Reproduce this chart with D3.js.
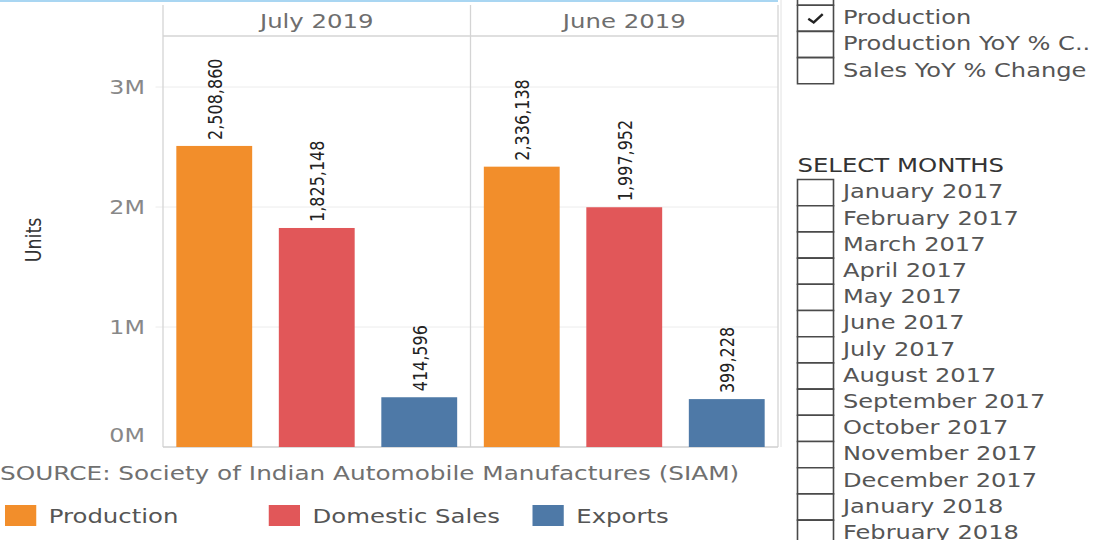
<!DOCTYPE html>
<html><head><meta charset="utf-8">
<script src="https://cdn.jsdelivr.net/npm/d3@7"></script>
<style>html,body{margin:0;padding:0;background:#fff;overflow:hidden}svg{display:block}text{font-family:"DejaVu Sans",sans-serif}</style>
</head><body>
<script>
// ---- data ----
const months = ["July 2019", "June 2019"];
const measures = ["Production", "Domestic Sales", "Exports"];
const production = [2508860, 2336138];
const domesticSales = [1825148, 1997952];
const exportsUnits = [414596, 399228];
const yTickValues = [0, 1000000, 2000000, 3000000];
const yTickLabels = ["0M", "1M", "2M", "3M"];
const measureOptions = ["", "Production", "Production YoY % C..", "Sales YoY % Change"];
const checkedOptions = ["Production"];
const selectMonths = ["January 2017","February 2017","March 2017","April 2017","May 2017","June 2017","July 2017","August 2017","September 2017","October 2017","November 2017","December 2017","January 2018","February 2018"];
const sourceText = "SOURCE: Society of Indian Automobile Manufactures (SIAM)";

(function () {
const colors = {"Production":"#f28e2b","Domestic Sales":"#e15759","Exports":"#4e79a7"};
const seriesValues = {"Production":production,"Domestic Sales":domesticSales,"Exports":exportsUnits};

const W = 1099, H = 540, SX = 1.25;
const svg = d3.select("body").append("svg").attr("width", W).attr("height", H);
const root = svg.append("g").attr("transform", `scale(${SX},1)`);

const pLeft = 130.4, pRight = 622.4, pTop = 36, pBottom = 447;
const x0 = d3.scaleBand().domain(months).range([pLeft, pRight]);
const x1 = d3.scaleBand().domain(measures).range([0, x0.bandwidth()]).paddingInner(0.26).paddingOuter(0.13);
const y = d3.scaleLinear().domain([0, 3425000]).range([pBottom, pTop]);

const line = (g, xa, ya, xb, yb, c, w) => g.append("line").attr("x1", xa).attr("y1", ya).attr("x2", xb).attr("y2", yb)
  .attr("stroke", c).attr("stroke-width", w || 1).attr("vector-effect", "non-scaling-stroke");

// top blue line
line(root, 0, 1, pRight, 1, "#a9d6f2", 2);
// right container edge
line(root, pRight + 2.4, 0, pRight + 2.4, pBottom, "#e2e2e2", 1);

// gridlines
root.append("g").selectAll("line").data(yTickValues.filter(v => v > 0)).join("line")
  .attr("x1", pLeft - 6).attr("x2", pRight).attr("y1", d => y(d)).attr("y2", d => y(d))
  .attr("stroke", "#ececec").attr("vector-effect", "non-scaling-stroke");

// pane borders
[pLeft, ...months.map(m => x0(m) + x0.bandwidth())].forEach(xv => line(root, xv, 5, xv, pBottom, "#d4d4d4", 1.3));
line(root, pLeft, pTop, pRight, pTop, "#d4d4d4", 1.3);
line(root, pLeft, pBottom, pRight, pBottom, "#cfcfcf", 1.3);

// headers
root.append("g").selectAll("text").data(months).join("text")
  .attr("x", d => x0(d) + x0.bandwidth() / 2).attr("y", 28)
  .attr("text-anchor", "middle").attr("font-size", 19.5).attr("fill", "#6e6e6e").text(d => d);

// y axis
const ax = root.append("g").attr("transform", `translate(${pLeft},0)`)
  .call(d3.axisLeft(y).tickValues(yTickValues).tickFormat((d, i) => yTickLabels[i]).tickSize(0).tickPadding(14.5));
ax.select(".domain").remove();
ax.selectAll("text").attr("font-family", "DejaVu Sans").attr("font-size", 19).attr("fill", "#888")
  .attr("dy", d => d === 0 ? "-0.28em" : "0.35em");

// axis title
root.append("text").attr("transform", `translate(27,240) rotate(-90)`).attr("text-anchor", "middle")
  .attr("dy", "0.35em").attr("font-size", 17.5).attr("fill", "#333").text("Units");

// bars
const rows = [];
months.forEach((m, i) => measures.forEach(s => rows.push({month: m, measure: s, value: seriesValues[s][i]})));
const bars = root.append("g");
bars.selectAll("rect").data(rows).join("rect")
  .attr("x", d => x0(d.month) + x1(d.measure)).attr("width", x1.bandwidth())
  .attr("y", d => y(d.value)).attr("height", d => y(0) - y(d.value))
  .attr("fill", d => colors[d.measure]);
bars.selectAll("text").data(rows).join("text")
  .attr("transform", d => `translate(${x0(d.month) + x1(d.measure) + x1.bandwidth() / 2},${y(d.value) - 6}) rotate(-90)`)
  .attr("dy", "0.37em").attr("font-size", 16).attr("fill", "#222").text(d => d3.format(",")(d.value));

// source
root.append("text").attr("x", 0).attr("y", 480).attr("font-size", 19.8).attr("fill", "#707070").text(sourceText);

// legend
const lg = root.append("g").selectAll("g").data(measures).join("g")
  .attr("transform", (d, i) => `translate(${4 + i * 211},505)`);
lg.append("rect").attr("width", 25).attr("height", 21).attr("fill", d => colors[d]);
lg.append("text").attr("x", 35).attr("y", 18).attr("font-size", 19.5).attr("fill", "#555").text(d => d);

// right panel: measure filter
const px = 638, tx = 674.4, bw = 28.8, rh = 26.2;
const opt = root.append("g").selectAll("g").data(measureOptions).join("g")
  .attr("transform", (d, i) => `translate(${px},${-21 + i * rh})`);
opt.append("rect").attr("width", bw).attr("height", rh).attr("fill", "#fff").attr("stroke", "#4a4a4a")
  .attr("stroke-width", 1.6).attr("vector-effect", "non-scaling-stroke");
opt.append("text").attr("x", tx - px).attr("y", 19).attr("font-size", 19.3).attr("fill", "#555").text(d => d);
opt.filter(d => checkedOptions.includes(d)).append("path")
  .attr("d", `M${bw*0.3},${rh*0.52} L${bw*0.45},${rh*0.66} L${bw*0.7},${rh*0.34}`)
  .attr("fill", "none").attr("stroke", "#222").attr("stroke-width", 2.4).attr("vector-effect", "non-scaling-stroke");

// select months
root.append("text").attr("x", px).attr("y", 172).attr("font-size", 19.5).attr("fill", "#333").text("SELECT MONTHS");
const ms = root.append("g").selectAll("g").data(selectMonths).join("g")
  .attr("transform", (d, i) => `translate(${px},${179.5 + i * rh})`);
ms.append("rect").attr("width", bw).attr("height", rh).attr("fill", "#fff").attr("stroke", "#4a4a4a")
  .attr("stroke-width", 1.6).attr("vector-effect", "non-scaling-stroke");
ms.append("text").attr("x", tx - px).attr("y", 19).attr("font-size", 19.3).attr("fill", "#555").text(d => d);
})();
</script>
</body></html>
